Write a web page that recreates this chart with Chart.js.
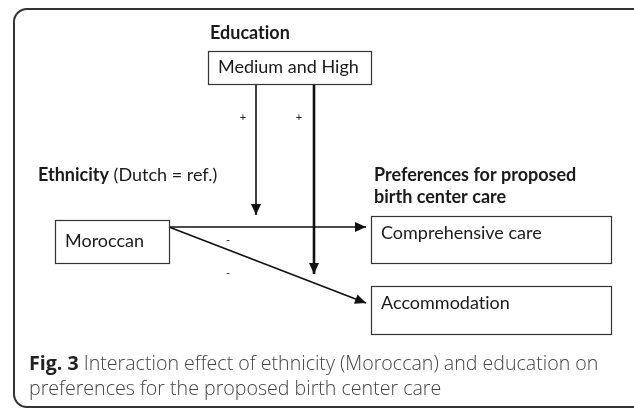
<!DOCTYPE html>
<html>
<head>
<meta charset="utf-8">
<script src="https://cdn.jsdelivr.net/npm/chart.js@4.4.0/dist/chart.umd.min.js"></script>
<style>
  html, body { margin: 0; padding: 0; background: #fff; }
  #wrap { position: relative; width: 634px; height: 409px; overflow: hidden; }
  #frame { position: absolute; left: 13px; top: 8px; width: 650px; height: 396px;
           border: 2px solid #333; border-radius: 14px; }
  #diagram { position: absolute; left: 0; top: 0; }
  #caption { position: absolute; left: 29px; top: 350px; font-family: "Open Sans", sans-serif;
             font-size: 19.6px; line-height: 25px; color: #444; font-weight: 300; white-space: nowrap; }
  #caption b { color: #222; font-weight: 700; }
</style>
</head>
<body>
<div id="wrap">
  <div id="frame"></div>
  <canvas id="diagram" width="634" height="409"></canvas>
  <div id="caption"><b>Fig. 3</b> Interaction effect of ethnicity (Moroccan) and education on<br>preferences for the proposed birth center care</div>
</div>
<script>
// diagram content
var nodeLabels = ["Medium and High", "Moroccan", "Comprehensive care", "Accommodation"];
var groupTitles = [["Education"], ["Ethnicity"], ["Preferences for proposed", "birth center care"]];
var groupNotes = ["", " (Dutch = ref.)", ""];
// edges: from node -> to node, sign of the effect
var edgeFrom = [0, 0, 1, 1];
var edgeTo = [2, 3, 2, 3];
var edgeSigns = ["+", "+", "-", "-"];

// layout (pixel units of the hidden 634 x 409 scales)
var boxes = [
  {x: 208, y: 51, w: 163, h: 33},
  {x: 55, y: 220, w: 114, h: 43},
  {x: 371, y: 216, w: 240, h: 47},
  {x: 371, y: 286, w: 240, h: 48}
];
var titlePos = [{x: 210, y: 33}, {x: 38, y: 175}, {x: 374, y: 175}];
var edgeStyle = [
  {x: 256, endY: 215, width: 1.6, signX: 243, signY: 117},
  {x: 314, endY: 274, width: 2.6, signX: 299, signY: 117},
  {y: 227, endX: 366, width: 1.6, signX: 228, signY: 240},
  {endX: 366, endY: 303, width: 1.6, signX: 228, signY: 273}
];

var datasets = [];
for (var i = 0; i < edgeFrom.length; i++) {
  var a = boxes[edgeFrom[i]], s = edgeStyle[i], pts;
  if (edgeFrom[i] === 0) {
    pts = [{x: s.x, y: a.y + a.h}, {x: s.x, y: s.endY}];
  } else if (s.y !== undefined) {
    pts = [{x: a.x + a.w, y: s.y}, {x: s.endX, y: s.y}];
  } else {
    pts = [{x: a.x + a.w, y: edgeStyle[2].y}, {x: s.endX, y: s.endY}];
  }
  datasets.push({
    data: pts, showLine: true, borderColor: "#111", borderWidth: s.width,
    pointRadius: 0, fill: false, tension: 0
  });
}

var diagramPlugin = {
  id: "diagram",
  afterDatasetsDraw: function(chart) {
    var ctx = chart.ctx;
    var xs = chart.scales.x, ys = chart.scales.y;
    ctx.save();
    ctx.textRendering = "optimizeSpeed"; // no "ti" ligature
    // boxes
    ctx.strokeStyle = "#333";
    ctx.lineWidth = 1.2;
    ctx.fillStyle = "#1a1a1a";
    ctx.textBaseline = "middle";
    for (var i = 0; i < boxes.length; i++) {
      var b = boxes[i];
      var x0 = xs.getPixelForValue(b.x), y0 = ys.getPixelForValue(b.y);
      var x1 = xs.getPixelForValue(b.x + b.w), y1 = ys.getPixelForValue(b.y + b.h);
      ctx.strokeRect(x0 + 0.5, y0 + 0.5, x1 - x0, y1 - y0);
      ctx.font = "18px Lato";
      var ty = (i === 0 || i === 1) ? (y0 + y1) / 2 : y0 + 17;
      ctx.fillText(nodeLabels[i], x0 + 10, ty);
    }
    // group titles
    for (var g = 0; g < groupTitles.length; g++) {
      var p = titlePos[g];
      for (var k = 0; k < groupTitles[g].length; k++) {
        var tx = xs.getPixelForValue(p.x), tyy = ys.getPixelForValue(p.y + k * 22);
        ctx.font = "bold 18px Lato";
        ctx.fillText(groupTitles[g][k], tx, tyy);
        if (groupNotes[g]) {
          var w = ctx.measureText(groupTitles[g][k]).width;
          ctx.font = "18px Lato";
          ctx.fillText(groupNotes[g], tx + w, tyy);
        }
      }
    }
    // signs and arrowheads
    ctx.font = "11px Lato";
    ctx.textAlign = "center";
    chart.data.datasets.forEach(function(ds, di) {
      var s = edgeStyle[di];
      ctx.fillText(edgeSigns[di], xs.getPixelForValue(s.signX), ys.getPixelForValue(s.signY));
      var p0 = ds.data[0], p1 = ds.data[ds.data.length - 1];
      var ax = xs.getPixelForValue(p0.x), ay = ys.getPixelForValue(p0.y);
      var bx = xs.getPixelForValue(p1.x), by = ys.getPixelForValue(p1.y);
      var ang = Math.atan2(by - ay, bx - ax);
      var len = 11, half = 5;
      ctx.beginPath();
      ctx.moveTo(bx, by);
      ctx.lineTo(bx - len * Math.cos(ang) + half * Math.sin(ang), by - len * Math.sin(ang) - half * Math.cos(ang));
      ctx.lineTo(bx - len * Math.cos(ang) - half * Math.sin(ang), by - len * Math.sin(ang) + half * Math.cos(ang));
      ctx.closePath();
      ctx.fillStyle = "#111";
      ctx.fill();
      ctx.fillStyle = "#1a1a1a";
    });
    ctx.restore();
  }
};

new Chart(document.getElementById("diagram"), {
  type: "scatter",
  data: {datasets: datasets},
  options: {
    responsive: false,
    animation: false,
    layout: {padding: 0},
    plugins: {legend: {display: false}, tooltip: {enabled: false}},
    scales: {
      x: {type: "linear", min: 0, max: 634, display: false},
      y: {type: "linear", min: 0, max: 409, reverse: true, display: false}
    }
  },
  plugins: [diagramPlugin]
});
</script>
</body>
</html>
